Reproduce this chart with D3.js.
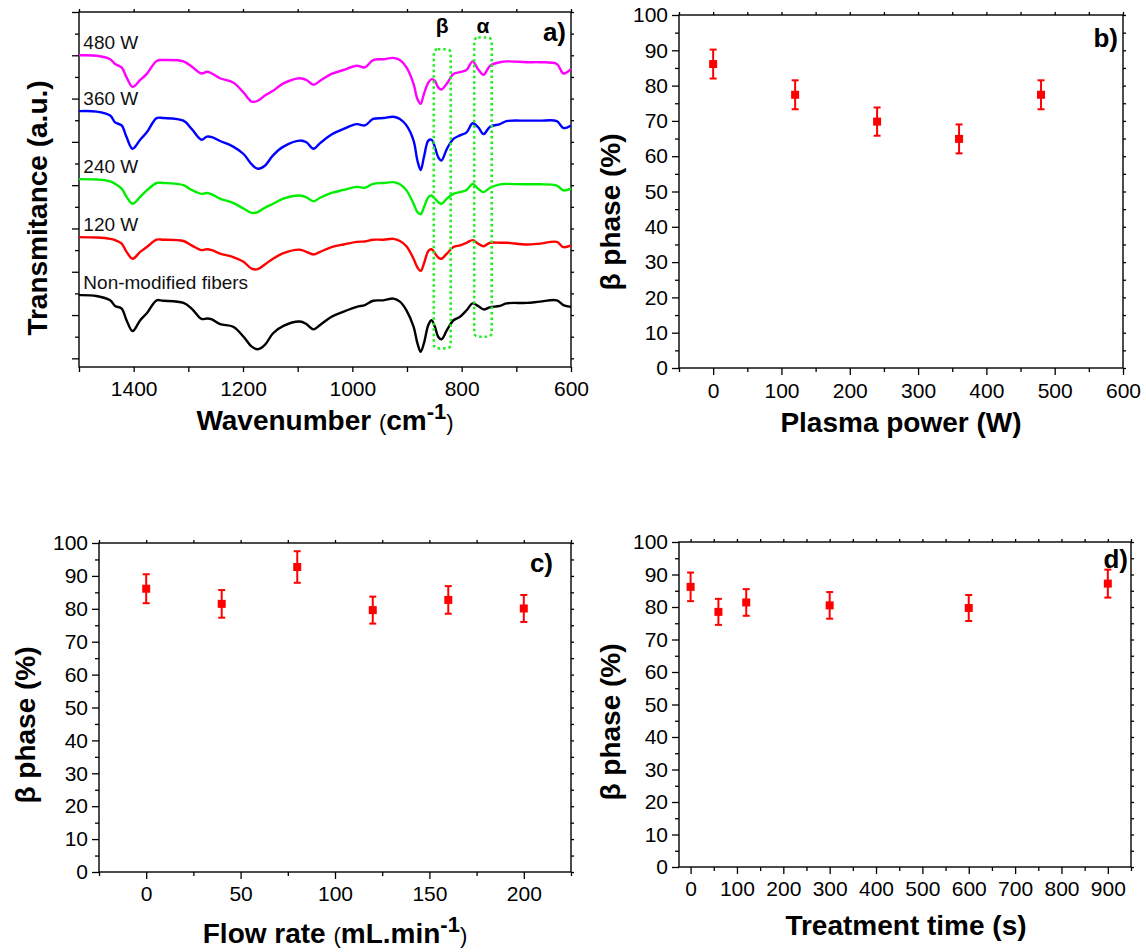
<!DOCTYPE html>
<html>
<head>
<meta charset="utf-8">
<script src="https://cdn.jsdelivr.net/npm/d3@7"></script>
<style>
  body { margin: 0; background: #fff; }
  svg { font-family: Arial, "Liberation Sans", sans-serif; }
</style>
</head>
<body>
<script>

// ---------- 
// ---------- Data
// ---------- 

// a) FTIR spectra, shared wavenumber grid (cm-1), transmittance in offset a.u.
var wavenumbers = [1500,1468,1443,1434,1422,1413,1402,1388,1376,1358,1346,1309,1294,1276,1266,1257,1242,1218,1199,1184,
                   1173,1160,1145,1126,1096,1084,1071,1059,1038,1016,992,977,962,943,925,913,901,888,881,875,
                   869,861,855,849,843,837,827,815,803,791,780,770,760,748,730,718,681,657,626,614,600];

var spec0   = [1.46,1.44,1.34,1.21,1.15,0.88,0.63,0.88,1.04,1.34,1.33,1.28,1.15,0.91,0.92,0.90,0.79,0.73,0.50,0.27,
               0.21,0.31,0.58,0.75,0.85,0.79,0.67,0.77,0.96,1.08,1.19,1.23,1.33,1.34,1.38,1.31,1.11,0.73,0.35,0.15,
               0.35,0.77,0.88,0.73,0.50,0.44,0.65,0.88,0.96,1.11,1.27,1.21,1.13,1.18,1.21,1.27,1.28,1.31,1.34,1.23,1.19];
var spec120 = [2.80,2.79,2.76,2.73,2.65,2.46,2.30,2.46,2.57,2.74,2.74,2.71,2.61,2.50,2.52,2.50,2.42,2.34,2.23,2.07,
               2.06,2.17,2.30,2.43,2.51,2.46,2.40,2.46,2.57,2.63,2.69,2.70,2.74,2.74,2.76,2.71,2.59,2.30,2.10,2.02,
               2.19,2.48,2.52,2.43,2.33,2.30,2.42,2.57,2.61,2.67,2.73,2.65,2.59,2.67,2.67,2.67,2.63,2.65,2.69,2.57,2.61];
var spec240 = [4.14,4.13,4.09,4.03,3.92,3.73,3.57,3.73,3.88,4.05,4.05,4.00,3.89,3.80,3.82,3.79,3.69,3.59,3.46,3.36,
               3.38,3.48,3.57,3.69,3.76,3.72,3.63,3.71,3.82,3.89,3.96,3.94,4.03,4.05,4.07,4.02,3.88,3.57,3.38,3.33,
               3.49,3.72,3.76,3.69,3.61,3.57,3.69,3.80,3.84,3.89,4.03,3.92,3.84,3.94,4.02,4.03,4.02,4.02,3.99,3.88,3.92];
var spec360 = [5.71,5.70,5.61,5.45,5.38,5.11,4.84,5.05,5.22,5.55,5.55,5.49,5.30,5.05,5.12,5.11,5.02,4.89,4.72,4.48,
               4.38,4.45,4.69,4.89,5.03,4.99,4.84,4.97,5.17,5.30,5.41,5.38,5.53,5.55,5.58,5.53,5.38,5.03,4.57,4.35,
               4.65,5.03,5.05,4.88,4.65,4.57,4.84,5.07,5.15,5.22,5.43,5.34,5.18,5.35,5.41,5.48,5.49,5.49,5.48,5.32,5.38];
var spec480 = [7.00,6.99,6.91,6.80,6.72,6.49,6.27,6.43,6.57,6.87,6.89,6.86,6.74,6.58,6.62,6.58,6.47,6.37,6.14,5.93,
               5.95,6.07,6.18,6.35,6.47,6.43,6.32,6.41,6.57,6.66,6.76,6.72,6.89,6.91,6.94,6.89,6.72,6.34,5.99,5.88,
               6.11,6.37,6.45,6.41,6.26,6.21,6.35,6.57,6.61,6.66,6.86,6.68,6.55,6.76,6.84,6.86,6.84,6.84,6.80,6.58,6.68];

var specNames  = ["Non-modified fibers", "120 W", "240 W", "360 W", "480 W"];
var specSeries = [spec0, spec120, spec240, spec360, spec480];

// band windows marked in a): label, high / low wavenumber, top / bottom
var bandNames = ["β", "α"];
var bandHigh  = [851, 777];
var bandLow   = [820, 745];
var bandTop   = [7.14, 7.41];
var bandBot   = [0.23, 0.50];

// b) beta phase vs plasma power
var powerW    = [0, 120, 240, 360, 480];
var powerBeta = [86.1, 77.4, 69.8, 64.9, 77.4];
var powerErr  = [4.1, 4.1, 4.0, 4.1, 4.1];

// c) beta phase vs flow rate
var flowRate  = [0, 40, 80, 120, 160, 200];
var flowBeta  = [86.1, 81.5, 92.7, 79.6, 82.7, 80.1];
var flowErr   = [4.4, 4.2, 4.8, 4.1, 4.2, 4.1];

// d) beta phase vs treatment time
var timeS     = [0, 60, 120, 300, 600, 900];
var timeBeta  = [86.2, 78.5, 81.4, 80.5, 79.7, 87.2];
var timeErr   = [4.4, 4.0, 4.1, 4.1, 4.0, 4.3];


// ---------- 
// ---------- Drawing
// ---------- 

var svg = d3.select("body")
            .append("svg")
            .attr("width", 1146)
            .attr("height", 952);

var specColors = ["#000000", "#ff0000", "#00ee00", "#0000ff", "#ff00ff"];

// draws the frame + Origin-style ticks for one panel
function drawFrame(p) {
  var g = svg.append("g");

  function style(sel) {
    sel.select(".domain").remove();
    sel.selectAll("line").attr("stroke", "#000").attr("stroke-width", 1.3);
    sel.selectAll("text").attr("font-size", "21px").attr("fill", "#000")
       .attr("font-family", "Arial, 'Liberation Sans', sans-serif");
  }

  g.append("g").attr("transform", "translate(0," + p.bottom + ")")
   .call(d3.axisBottom(p.x).tickValues(p.xMinor).tickSize(p.xMinorSize).tickFormat(""))
   .call(style);
  g.append("g").attr("transform", "translate(0," + p.bottom + ")")
   .call(d3.axisBottom(p.x).tickValues(p.xMajor).tickSize(p.xMajorSize).tickPadding(p.xPad)
           .tickFormat(d3.format("d")))
   .call(style);

  g.append("g").attr("transform", "translate(" + p.left + ",0)")
   .call(d3.axisLeft(p.y).tickValues(p.yMinor).tickSize(4).tickFormat(""))
   .call(style);
  g.append("g").attr("transform", "translate(" + p.left + ",0)")
   .call(d3.axisLeft(p.y).tickValues(p.yMajor).tickSize(7).tickPadding(4)
           .tickFormat(p.yLabels ? d3.format("d") : ""))
   .call(style);

  // mirrored short ticks on top and right
  g.append("g").attr("transform", "translate(0," + p.top + ")")
   .call(d3.axisTop(p.x).tickValues(p.xMajor.concat(p.xMinor)).tickSize(3).tickFormat(""))
   .call(style);
  g.append("g").attr("transform", "translate(" + p.right + ",0)")
   .call(d3.axisRight(p.y).tickValues(p.yMajor.concat(p.yMinor)).tickSize(3).tickFormat(""))
   .call(style);

  g.append("rect")
   .attr("x", p.left).attr("y", p.top)
   .attr("width", p.right - p.left).attr("height", p.bottom - p.top)
   .attr("fill", "none").attr("stroke", "#000").attr("stroke-width", 1.4);
  return g;
}

function panelLetter(txt, x, y) {
  svg.append("text").text(txt)
     .attr("x", x).attr("y", y)
     .attr("text-anchor", "end")
     .attr("font-size", "26px").attr("font-weight", "bold");
}

function yTitle(x, y) {
  svg.append("text")
     .attr("transform", "translate(" + x + "," + y + ") rotate(-90)")
     .attr("text-anchor", "middle")
     .attr("font-size", "28px").attr("font-weight", "bold")
     .text("β phase (%)");
}

// scatter with error bars
function drawScatter(p, xs, ys, errs) {
  var pts = xs.map(function(d, i) { return { x: d, y: ys[i], e: errs[i] }; });
  var g = svg.append("g").attr("fill", "#ff0000").attr("stroke", "#ff0000");

  g.selectAll("line.bar").data(pts).enter().append("line")
   .attr("x1", function(d) { return p.x(d.x); })
   .attr("x2", function(d) { return p.x(d.x); })
   .attr("y1", function(d) { return p.y(d.y - d.e); })
   .attr("y2", function(d) { return p.y(d.y + d.e); })
   .attr("stroke-width", 2);

  [-1, 1].forEach(function(s) {
    g.selectAll(null).data(pts).enter().append("line")
     .attr("x1", function(d) { return p.x(d.x) - 3.5; })
     .attr("x2", function(d) { return p.x(d.x) + 3.5; })
     .attr("y1", function(d) { return p.y(d.y + s * d.e); })
     .attr("y2", function(d) { return p.y(d.y + s * d.e); })
     .attr("stroke-width", 2);
  });

  g.selectAll("rect").data(pts).enter().append("rect")
   .attr("x", function(d) { return p.x(d.x) - 4; })
   .attr("y", function(d) { return p.y(d.y) - 4; })
   .attr("width", 8).attr("height", 8)
   .attr("stroke", "none");
}


// ---------- a) spectra
var pa = { left: 79, right: 571, top: 12, bottom: 367 };
pa.x = d3.scaleLinear().domain([1500, 600]).range([pa.left, pa.right]);
pa.y = d3.scaleLinear().domain([-0.2, 8]).range([pa.bottom, pa.top]);
pa.xMajor = [1400, 1200, 1000, 800, 600];
pa.xMinor = [1500, 1300, 1100, 900, 700];
pa.xMajorSize = 5; pa.xMinorSize = 5; pa.xPad = 9;
pa.yMajor = d3.range(0, 8.01, 1);
pa.yMinor = d3.range(0.5, 8, 1);
pa.yLabels = false;
drawFrame(pa);

var line = d3.line()
  .x(function(d) { return pa.x(d[0]); })
  .y(function(d) { return pa.y(d[1]); })
  .curve(d3.curveCatmullRom.alpha(0.5));

specSeries.forEach(function(s, i) {
  var pts = wavenumbers.map(function(w, j) { return [w, s[j]]; });
  svg.append("path")
     .datum(pts)
     .attr("d", line)
     .attr("fill", "none")
     .attr("stroke", specColors[i])
     .attr("stroke-width", 2.4);
  svg.append("text")
     .text(specNames[i])
     .attr("x", pa.x(1492))
     .attr("y", pa.y(s[0]) - 6)
     .attr("font-size", "19px")
     .attr("fill", "#111");
});

// dotted band boxes
bandNames.forEach(function(b, i) {
  var x0 = pa.x(bandHigh[i]), x1 = pa.x(bandLow[i]);
  svg.append("rect")
     .attr("x", x0).attr("y", pa.y(bandTop[i]))
     .attr("width", x1 - x0).attr("height", pa.y(bandBot[i]) - pa.y(bandTop[i]))
     .attr("rx", 4).attr("ry", 4)
     .attr("fill", "none")
     .attr("stroke", "#22ee22")
     .attr("stroke-width", 2.6)
     .attr("stroke-dasharray", "2.5,3");
  svg.append("text")
     .text(b)
     .attr("x", (x0 + x1) / 2)
     .attr("y", 33)
     .attr("text-anchor", "middle")
     .attr("font-size", "21px")
     .attr("font-weight", "bold");
});

panelLetter("a)", 566, 41);

svg.append("text")
   .attr("transform", "translate(47,208) rotate(-90)")
   .attr("text-anchor", "middle")
   .attr("font-size", "28px").attr("font-weight", "bold")
   .text("Transmitance (a.u.)");

var ta = svg.append("text")
   .attr("x", 325).attr("y", 430)
   .attr("text-anchor", "middle")
   .attr("font-size", "28px").attr("font-weight", "bold");
ta.append("tspan").text("Wavenumber ");
ta.append("tspan").text("(").attr("font-weight", "normal").attr("font-size", "22px");
ta.append("tspan").text("cm");
ta.append("tspan").text("-1").attr("font-size", "22px").attr("dy", -11);
ta.append("tspan").text(")").attr("font-weight", "normal").attr("font-size", "22px").attr("dy", 11);


// ---------- b) plasma power
var pb = { left: 679, right: 1123, top: 15, bottom: 368 };
pb.x = d3.scaleLinear().domain([-50, 600]).range([pb.left, pb.right]);
pb.y = d3.scaleLinear().domain([0, 100]).range([pb.bottom, pb.top]);
pb.xMajor = d3.range(0, 601, 100);
pb.xMinor = d3.range(-50, 600, 100);
pb.xMajorSize = 7; pb.xMinorSize = 4; pb.xPad = 8;
pb.yMajor = d3.range(0, 101, 10);
pb.yMinor = d3.range(5, 100, 10);
pb.yLabels = true;
drawFrame(pb);
drawScatter(pb, powerW, powerBeta, powerErr);
panelLetter("b)", 1118, 47);
yTitle(620, 212);
svg.append("text").text("Plasma power (W)")
   .attr("x", 901).attr("y", 432)
   .attr("text-anchor", "middle")
   .attr("font-size", "28px").attr("font-weight", "bold");


// ---------- c) flow rate
var pc = { left: 99, right: 571, top: 543, bottom: 872 };
pc.x = d3.scaleLinear().domain([-25, 225]).range([pc.left, pc.right]);
pc.y = d3.scaleLinear().domain([0, 100]).range([pc.bottom, pc.top]);
pc.xMajor = d3.range(0, 201, 50);
pc.xMinor = d3.range(-25, 226, 50);
pc.xMajorSize = 7; pc.xMinorSize = 4; pc.xPad = 7;
pc.yMajor = d3.range(0, 101, 10);
pc.yMinor = d3.range(5, 100, 10);
pc.yLabels = true;
drawFrame(pc);
drawScatter(pc, flowRate, flowBeta, flowErr);
panelLetter("c)", 553, 572);
yTitle(35, 725);
var tc = svg.append("text")
   .attr("x", 335).attr("y", 943)
   .attr("text-anchor", "middle")
   .attr("font-size", "28px").attr("font-weight", "bold");
tc.append("tspan").text("Flow rate ");
tc.append("tspan").text("(").attr("font-weight", "normal").attr("font-size", "22px");
tc.append("tspan").text("mL.min");
tc.append("tspan").text("-1").attr("font-size", "22px").attr("dy", -11);
tc.append("tspan").text(")").attr("font-weight", "normal").attr("font-size", "22px").attr("dy", 11);


// ---------- d) treatment time
var pd = { left: 679, right: 1131, top: 542, bottom: 867 };
pd.x = d3.scaleLinear().domain([-25, 950]).range([pd.left, pd.right]);
pd.y = d3.scaleLinear().domain([0, 100]).range([pd.bottom, pd.top]);
pd.xMajor = d3.range(0, 901, 100);
pd.xMinor = d3.range(50, 951, 100);
pd.xMajorSize = 7; pd.xMinorSize = 4; pd.xPad = 7;
pd.yMajor = d3.range(0, 101, 10);
pd.yMinor = d3.range(5, 100, 10);
pd.yLabels = true;
drawFrame(pd);
drawScatter(pd, timeS, timeBeta, timeErr);
panelLetter("d)", 1128, 568);
yTitle(620, 722);
svg.append("text").text("Treatment time (s)")
   .attr("x", 906).attr("y", 935)
   .attr("text-anchor", "middle")
   .attr("font-size", "28px").attr("font-weight", "bold");

</script>
</body>
</html>
